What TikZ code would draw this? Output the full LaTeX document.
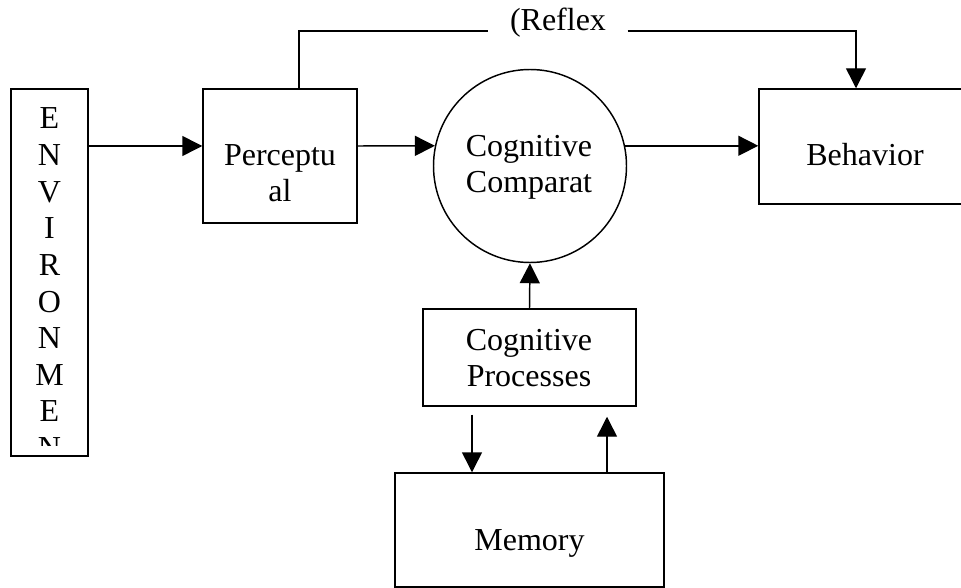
\documentclass[tikz,border=0pt]{standalone}
\usepackage{fontspec}
\setmainfont{Liberation Serif}
\usetikzlibrary{arrows.meta}
\begin{document}
\begin{tikzpicture}[x=0.75pt,y=-0.75pt, line width=1.1pt,
  box/.style={draw, inner sep=0pt},
  lbl/.style={font=\fontsize{24}{27.5}\selectfont, inner sep=0pt, anchor=base},
  arr/.style={-{Triangle[length=15pt,width=15pt]}}]
\useasboundingbox (0,0) rectangle (961,588);
\clip (0,0) rectangle (961,588);
% boxes
\node[box, minimum width=57.75pt, minimum height=275.25pt] (env) at (49.5,272.5) {};
\node[box, minimum width=115.5pt, minimum height=100.5pt] (perc) at (280,156) {};
\node[box, circle, minimum size=144.75pt] (circ) at (530,166) {};
\node[box, minimum width=180.75pt, minimum height=86.25pt] (beh) at (879.5,146.5) {};
\node[box, minimum width=159.75pt, minimum height=72.75pt] (cp) at (529.5,357.5) {};
\node[box, minimum width=201.75pt, minimum height=85.5pt] (mem) at (529.5,530) {};
% labels
\begin{scope}
\clip (11,89) rectangle (88,445);
\foreach \c [count=\i from 0] in {E,N,V,I,R,O,N,M,E,N}
  \node[lbl] (envl\i) at (49.5,129+36.6*\i) {\c};
\end{scope}
\node[lbl] (tperc1) at (280,165.5) {Perceptu};
\node[lbl] (tperc2) at (280,201.5) {al};
\node[lbl] (tcirc1) at (529,156.5) {Cognitive};
\node[lbl] (tcirc2) at (529,193) {Comparat};
\node[lbl] (tbeh) at (865,165.5) {Behavior};
\node[lbl] (tcp1) at (529,350) {Cognitive};
\node[lbl] (tcp2) at (529,386) {Processes};
\node[lbl] (tmem) at (529.5,550) {Memory};
\node[lbl, inner xsep=15.75pt] (refl) at (558,31) {(Reflex};
% connectors
\coordinate (yA) at (0,146);
\coordinate (xd) at (472,0);
\coordinate (xu) at (607,0);
\draw[arr] (env.east |- yA) -- (perc.west |- yA);
\draw[arr] (perc.east |- yA) -- (circ.168);
\draw[arr] (circ.12) -- (beh.west |- circ.12);
\draw ([xshift=14.25pt]perc.north) |- (refl.base west);
\draw[arr] (refl.base east) -| ([xshift=-17.625pt]beh.north);
\draw[arr] (cp.north) -- (circ.south);
\draw[arr, shorten <=6pt] (cp.south -| xd) -- (mem.north -| xd);
\draw[arr, shorten >=7.5pt] (mem.north -| xu) -- (cp.south -| xu);
\end{tikzpicture}
\end{document}
